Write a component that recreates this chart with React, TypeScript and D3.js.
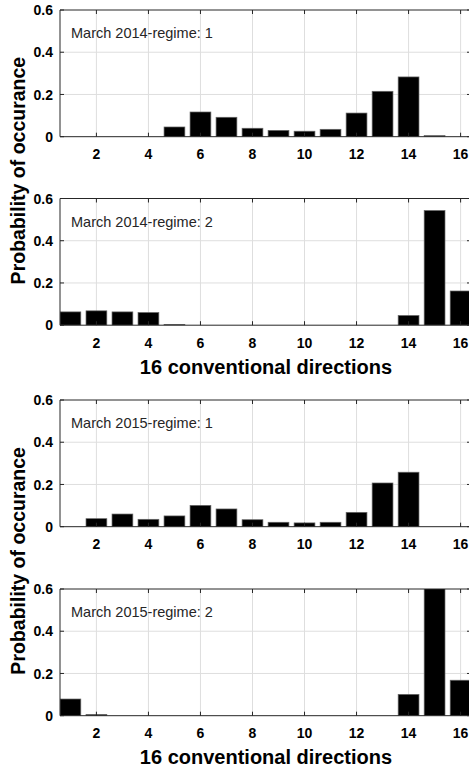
import { useEffect, useRef } from 'react';
import * as d3 from 'd3';

// 16 conventional wind directions
const directions = [1, 2, 3, 4, 5, 6, 7, 8, 9, 10, 11, 12, 13, 14, 15, 16];
const xTicks = [2, 4, 6, 8, 10, 12, 14, 16];
const yTicks = [0, 0.2, 0.4, 0.6];

const march2014Regime1 = [0, 0, 0, 0, 0.046, 0.117, 0.092, 0.04, 0.03, 0.026, 0.035, 0.112, 0.215, 0.283, 0.005, 0];
const march2014Regime2 = [0.063, 0.068, 0.063, 0.06, 0.004, 0, 0, 0, 0, 0, 0, 0, 0, 0.046, 0.543, 0.162];
const march2015Regime1 = [0, 0.038, 0.06, 0.035, 0.051, 0.101, 0.084, 0.033, 0.021, 0.018, 0.021, 0.068, 0.207, 0.258, 0, 0];
const march2015Regime2 = [0.079, 0.006, 0, 0, 0, 0, 0, 0, 0, 0, 0, 0, 0, 0.101, 0.64, 0.168];

const panelTitles = ['March 2014-regime: 1', 'March 2014-regime: 2', 'March 2015-regime: 1', 'March 2015-regime: 2'];
const panelSeries = [march2014Regime1, march2014Regime2, march2015Regime1, march2015Regime2];

const FONT = '"Liberation Sans", Arial, sans-serif';

const App = () => {
  const ref = useRef<SVGSVGElement | null>(null);

  useEffect(() => {
    const width = 469;
    const height = 771;
    const left = 60;
    const right = 471;
    const panelH = 126.7;
    const tops = [10, 198.5, 400, 589];

    const svg = d3.select(ref.current);
    svg.selectAll('*').remove();
    svg.attr('width', width).attr('height', height);

    const x = d3.scaleLinear().domain([0.6, 16.4]).range([left, right]);
    const barW = x(0.8) - x(0);

    panelSeries.forEach((values, i) => {
      const top = tops[i];
      const y = d3.scaleLinear().domain([0, 0.6]).range([top + panelH, top]);
      const g = svg.append('g');

      g.append('clipPath')
        .attr('id', `clip${i}`)
        .append('rect')
        .attr('x', left)
        .attr('y', top)
        .attr('width', right - left)
        .attr('height', panelH);

      // grid
      g.selectAll('.vgrid')
        .data(xTicks)
        .enter()
        .append('line')
        .attr('x1', (d) => x(d))
        .attr('x2', (d) => x(d))
        .attr('y1', top)
        .attr('y2', top + panelH)
        .attr('stroke', '#dedede')
        .attr('stroke-width', 1);
      g.selectAll('.hgrid')
        .data(yTicks.slice(1, 3))
        .enter()
        .append('line')
        .attr('x1', left)
        .attr('x2', right)
        .attr('y1', (d) => y(d))
        .attr('y2', (d) => y(d))
        .attr('stroke', '#dedede')
        .attr('stroke-width', 1);

      // bars
      g.append('g')
        .attr('clip-path', `url(#clip${i})`)
        .selectAll('rect')
        .data(values.map((v, k) => ({ dir: directions[k], v })).filter((d) => d.v > 0))
        .enter()
        .append('rect')
        .attr('x', (d) => x(d.dir) - barW / 2)
        .attr('y', (d) => y(d.v))
        .attr('width', barW)
        .attr('height', (d) => y(0) - y(d.v))
        .attr('fill', '#000')
        .attr('stroke', '#666')
        .attr('stroke-width', 0.7);

      // box
      const axisColor = '#262626';
      g.append('line').attr('x1', left).attr('x2', right).attr('y1', top).attr('y2', top)
        .attr('stroke', axisColor).attr('stroke-width', 1);
      g.append('line').attr('x1', left).attr('x2', right).attr('y1', top + panelH).attr('y2', top + panelH)
        .attr('stroke', axisColor).attr('stroke-width', 1);
      g.append('line').attr('x1', left).attr('x2', left).attr('y1', top).attr('y2', top + panelH)
        .attr('stroke', axisColor).attr('stroke-width', 1);

      // inward ticks
      xTicks.forEach((t) => {
        g.append('line').attr('x1', x(t)).attr('x2', x(t)).attr('y1', top + panelH).attr('y2', top + panelH - 4)
          .attr('stroke', axisColor);
        g.append('line').attr('x1', x(t)).attr('x2', x(t)).attr('y1', top).attr('y2', top + 4)
          .attr('stroke', axisColor);
      });
      yTicks.forEach((t) => {
        g.append('line').attr('x1', left).attr('x2', left + 4).attr('y1', y(t)).attr('y2', y(t))
          .attr('stroke', axisColor);
        g.append('line').attr('x1', right - 4).attr('x2', right).attr('y1', y(t)).attr('y2', y(t))
          .attr('stroke', axisColor);
      });

      // tick labels
      g.selectAll('.xlab')
        .data(xTicks)
        .enter()
        .append('text')
        .attr('x', (d) => x(d))
        .attr('y', top + panelH + 22.5)
        .attr('text-anchor', 'middle')
        .style('font-family', FONT)
        .style('font-weight', 'bold')
        .style('font-size', '14px')
        .attr('fill', '#000')
        .text((d) => d);
      g.selectAll('.ylab')
        .data(yTicks)
        .enter()
        .append('text')
        .attr('x', 53)
        .attr('y', (d) => y(d))
        .attr('dy', '0.36em')
        .attr('text-anchor', 'end')
        .style('font-family', FONT)
        .style('font-weight', 'bold')
        .style('font-size', '14px')
        .attr('fill', '#000')
        .text((d) => (d === 0 ? '0' : d.toFixed(1)));

      g.append('text')
        .attr('x', 71)
        .attr('y', top + 28)
        .style('font-family', FONT)
        .style('font-size', '14.5px')
        .attr('fill', '#262626')
        .text(panelTitles[i]);
    });

    // shared labels for each pair of panels
    [0, 2].forEach((i) => {
      const top = tops[i];
      const bottom = tops[i + 1] + panelH;
      svg.append('text')
        .attr('transform', `translate(25,${(top + bottom) / 2 + 3}) rotate(-90)`)
        .attr('text-anchor', 'middle')
        .style('font-family', FONT)
        .style('font-weight', 'bold')
        .style('font-size', '19.5px')
        .attr('fill', '#000')
        .text('Probability of occurance');
      svg.append('text')
        .attr('x', 266)
        .attr('y', bottom + 48.5)
        .attr('text-anchor', 'middle')
        .style('font-family', FONT)
        .style('font-weight', 'bold')
        .style('font-size', '20px')
        .attr('fill', '#000')
        .text('16 conventional directions');
    });
  }, []);

  return <svg ref={ref} style={{ position: 'absolute', left: 0, top: 0 }}></svg>;
};

export default App;
